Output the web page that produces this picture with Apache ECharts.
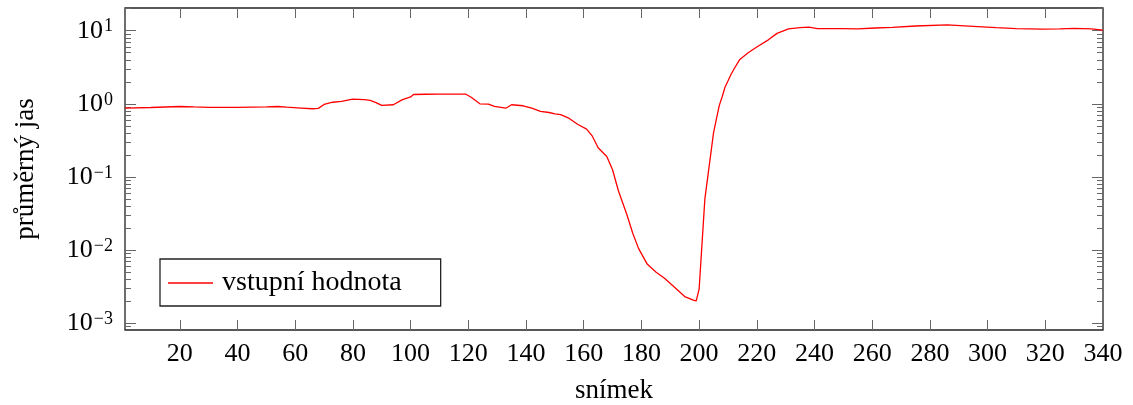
<!DOCTYPE html>
<html>
<head>
<meta charset="utf-8">
<script src="https://cdn.jsdelivr.net/npm/echarts@6/dist/echarts.min.js"></script>
<style>html,body{margin:0;padding:0;background:#fff}#c{width:1133px;height:405px}</style>
</head>
<body>
<div id="c"></div>
<script>
const frames = [1,10,20,25,30,40,50,54,57,62,66,68,70,73,76,80,84,86,88,90,94,97,100,101,105,110,115,119,121,124,127,129,133,135,139,142,145,148,150,152,155,158,161,163,165,168,170,172,175,177,179,182,185,188,191,195,198,199,200,201,202,203,204,205,206,207,208,209,210,211,212,214,217,220,224,227,231,235,238,241,250,255,261,267,275,286,295,303,310,319,325,330,336,340];
const brightness = [0.873,0.89,0.918,0.905,0.895,0.893,0.905,0.918,0.9,0.875,0.855,0.865,0.98,1.05,1.08,1.16,1.14,1.11,1.04,0.95,0.97,1.13,1.24,1.34,1.35,1.36,1.36,1.36,1.23,1.0,0.99,0.92,0.87,0.97,0.94,0.87,0.79,0.76,0.73,0.71,0.63,0.52,0.45,0.36,0.25,0.19,0.125,0.065,0.03,0.0169,0.0105,0.0064,0.005,0.0041,0.0032,0.0023,0.00205,0.00201,0.0029,0.012,0.05,0.1,0.2,0.4,0.62,0.95,1.25,1.7,2.05,2.5,2.95,4.0,5.0,6.0,7.5,9.2,10.6,11.0,11.2,10.7,10.7,10.6,10.9,11.1,11.6,12.0,11.5,11.0,10.7,10.5,10.6,10.8,10.6,10.2];
const xTicks = [20,40,60,80,100,120,140,160,180,200,220,240,260,280,300,320,340];
const yDecades = [-3,-2,-1,0,1];
const minorMultipliers = [2,3,4,5,6,7,8,9];
const seriesName = 'vstupní hodnota';
const xName = 'snímek';
const yName = 'průměrný jas';

const Y_MIN = -3.096, Y_MAX = 1.311;
const minorTicks = [];
[-4,-3,-2,-1,0,1].forEach(d => minorMultipliers.forEach(m => {
  const v = d + Math.log10(m);
  if (v > Y_MIN && v < Y_MAX) minorTicks.push(v);
}));
const data = frames.map((f, i) => [f, Math.log10(brightness[i])]);
const FONT = 'Liberation Serif';
const tickColor = '#666';
function supLabel(v) {
  const n = Math.round(v);
  const s = n < 0 ? '\u2212' + (-n) : String(n);
  return '{b|10}{s|' + s + '}';
}
const labelRich = {
  b: {fontFamily: FONT, fontSize: 26, lineHeight: 26, color: '#000', verticalAlign: 'bottom'},
  s: {fontFamily: FONT, fontSize: 18, lineHeight: 18, color: '#000', verticalAlign: 'top', padding: [0,0,12,1]}
};
function yAx(pos, values, len, labels) {
  return {
    type: 'value', position: pos, min: Y_MIN, max: Y_MAX,
    axisLine: {show: false, onZero: false}, splitLine: {show: false},
    axisTick: {show: true, inside: true, length: len, customValues: values, lineStyle: {color: tickColor, width: 1}},
    axisLabel: labels ? {show: true, customValues: yDecades, formatter: supLabel, rich: labelRich, margin: 12} : {show: false},
    name: labels ? yName : '', nameLocation: 'middle', nameGap: 86, nameRotate: 90,
    nameTextStyle: {fontFamily: FONT, fontSize: 27, color: '#000'}
  };
}
function xAx(pos, labels) {
  return {
    type: 'value', position: pos, min: 1, max: 340,
    axisLine: {show: false, onZero: false}, splitLine: {show: false},
    axisTick: {show: true, inside: true, length: 10, customValues: xTicks, lineStyle: {color: tickColor, width: 1}},
    axisLabel: labels ? {show: true, customValues: xTicks, fontFamily: FONT, fontSize: 26, color: '#000', margin: 11} : {show: false},
    name: labels ? xName : '', nameLocation: 'middle', nameGap: 47,
    nameTextStyle: {fontFamily: FONT, fontSize: 27, color: '#000'}
  };
}
const chart = echarts.init(document.getElementById('c'), null, {renderer: 'canvas'});
chart.setOption({
  animation: false,
  backgroundColor: '#fff',
  grid: {left: 125, right: 30, top: 8, bottom: 75, show: true, borderColor: '#222', borderWidth: 1.3, backgroundColor: 'transparent', containLabel: false, outerBoundsMode: 'none'},
  xAxis: [xAx('bottom', true), xAx('top', false)],
  yAxis: [yAx('left', yDecades, 11, true), yAx('left', minorTicks, 6, false), yAx('right', yDecades, 11, false), yAx('right', minorTicks, 6, false)],
  legend: {
    left: 160, top: 259, orient: 'vertical',
    data: [{name: seriesName, icon: 'rect'}],
    itemWidth: 45, itemHeight: 1.4,
    padding: [10, 39, 9, 8],
    borderColor: '#222', borderWidth: 1.3, backgroundColor: '#fff',
    textStyle: {fontFamily: FONT, fontSize: 28, color: '#000', padding: [0, 0, 0, 4]}
  },
  series: [{
    name: seriesName, type: 'line', data: data, showSymbol: false, symbol: 'none',
    xAxisIndex: 0, yAxisIndex: 0,
    lineStyle: {color: '#ff0000', width: 1.3}, itemStyle: {color: '#ff0000'}
  }]
});
</script>
</body>
</html>
